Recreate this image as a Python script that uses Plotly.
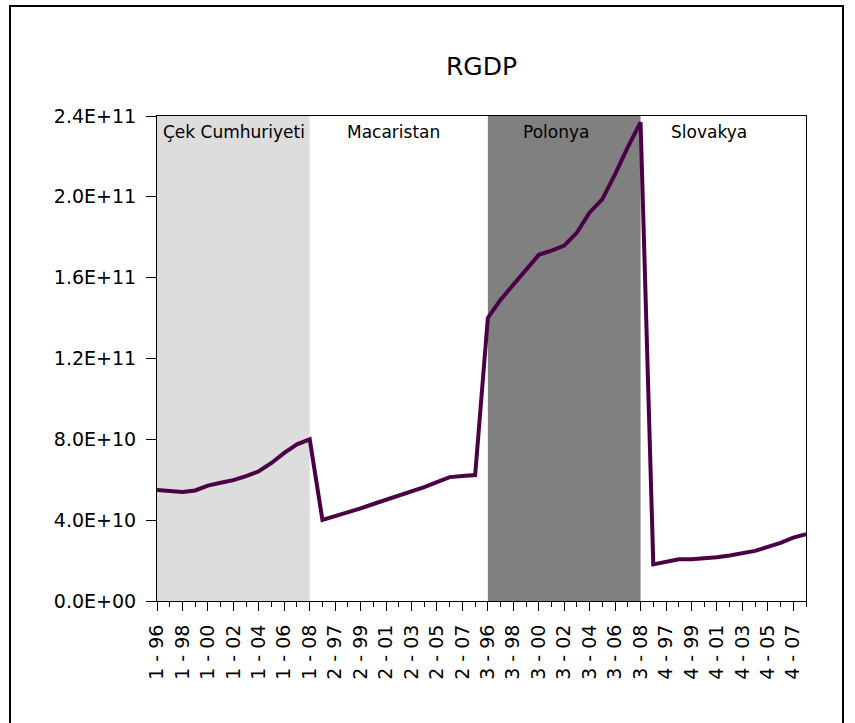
import plotly.graph_objects as go

# ---- data ----
countries = ["1", "2", "3", "4"]
country_names = ["Çek Cumhuriyeti", "Macaristan", "Polonya", "Slovakya"]
years = ["96", "97", "98", "99", "00", "01", "02", "03", "04", "05", "06", "07", "08"]

rgdp_cek = [5.49e10, 5.44e10, 5.39e10, 5.47e10, 5.71e10, 5.85e10, 5.98e10, 6.18e10, 6.42e10, 6.83e10, 7.33e10, 7.75e10, 8.00e10]
rgdp_mac = [4.01e10, 4.19e10, 4.38e10, 4.58e10, 4.80e10, 5.00e10, 5.21e10, 5.40e10, 5.64e10, 5.88e10, 6.13e10, 6.19e10, 6.23e10]
rgdp_pol = [14.01e10, 14.91e10, 15.65e10, 16.42e10, 17.13e10, 17.34e10, 17.59e10, 18.23e10, 19.23e10, 19.89e10, 21.12e10, 22.46e10, 23.69e10]
rgdp_slo = [1.81e10, 1.94e10, 2.07e10, 2.07e10, 2.10e10, 2.17e10, 2.25e10, 2.35e10, 2.48e10, 2.68e10, 2.88e10, 3.14e10, 3.30e10]

y_tickvals = [0, 4e10, 8e10, 1.2e11, 1.6e11, 2.0e11, 2.4e11]
y_ticktext = ["0.0E+00", "4.0E+10", "8.0E+10", "1.2E+11", "1.6E+11", "2.0E+11", "2.4E+11"]

# shaded country blocks (country index -> fill colour)
shaded = {0: "#DDDDDD", 2: "#808080"}

# ---- build ----
series = [rgdp_cek, rgdp_mac, rgdp_pol, rgdp_slo]
values = [v for s in series for v in s]
labels = [f"{c} - {y}" for c in countries for y in years]
xs = list(range(len(values)))
n_y = len(years)

FONT = "DejaVu Sans"

fig = go.Figure()
fig.add_trace(go.Scatter(
    x=xs, y=values, mode="lines",
    line=dict(color="#4B0046", width=4),
    hoverinfo="skip", showlegend=False,
))

shapes = []
for ci, col in shaded.items():
    shapes.append(dict(type="rect", xref="x", yref="paper",
                       x0=ci * n_y, x1=ci * n_y + n_y - 1, y0=0, y1=1,
                       fillcolor=col, line=dict(width=0), layer="below"))

# outer frame (pixel -> paper conversion for a 157..806 x 116..601 plot area)
def px(xp):
    return (xp - 157) / 649.0

def py(yp):
    return (601 - yp) / 485.0

shapes.append(dict(type="path", xref="paper", yref="paper",
                   path=f"M {px(10)} {py(740)} L {px(10)} {py(6)} L {px(843)} {py(6)} L {px(843)} {py(740)}",
                   line=dict(color="black", width=2)))

annotations = []
label_offsets = [0.3, 14.8, 28.6, 40.2]
for name, xo in zip(country_names, label_offsets):
    annotations.append(dict(x=xo, y=0.966, xref="x", yref="paper", text=name,
                            showarrow=False, xanchor="left", yanchor="middle",
                            font=dict(family=FONT, size=17, color="black")))

fig.update_layout(
    width=855, height=723,
    margin=dict(l=157, r=49, t=116, b=122),
    paper_bgcolor="white", plot_bgcolor="white",
    title=dict(text="RGDP", x=0.5, xref="paper", y=1 - 66 / 723, yref="container",
               xanchor="center", yanchor="middle",
               font=dict(family=FONT, size=25, color="black")),
    shapes=shapes, annotations=annotations,
    showlegend=False,
)

fig.update_xaxes(
    range=[0, len(values) - 1],
    tickmode="array", tickvals=xs[::2], ticktext=labels[::2],
    tickangle=-90, ticks="outside", ticklen=9, tickcolor="black", tickwidth=1,
    minor=dict(tickmode="linear", tick0=0, dtick=1, ticks="outside", ticklen=5,
               tickcolor="black", tickwidth=1, showgrid=False),
    showline=True, linecolor="black", linewidth=1, mirror=True,
    showgrid=False, zeroline=False,
    tickfont=dict(family=FONT, size=19, color="black"),
    ticklabelstandoff=6,
)
fig.update_yaxes(
    range=[0, 2.4e11],
    tickmode="array", tickvals=y_tickvals, ticktext=y_ticktext,
    ticks="outside", ticklen=10, tickcolor="black", tickwidth=1,
    showline=True, linecolor="black", linewidth=1, mirror=True,
    showgrid=False, zeroline=False,
    tickfont=dict(family=FONT, size=19, color="black"),
    ticklabelstandoff=6,
)

fig.write_html("out.html",
               config={"displayModeBar": False},
               post_script="document.body.style.margin='0';document.body.style.overflow='hidden';")
